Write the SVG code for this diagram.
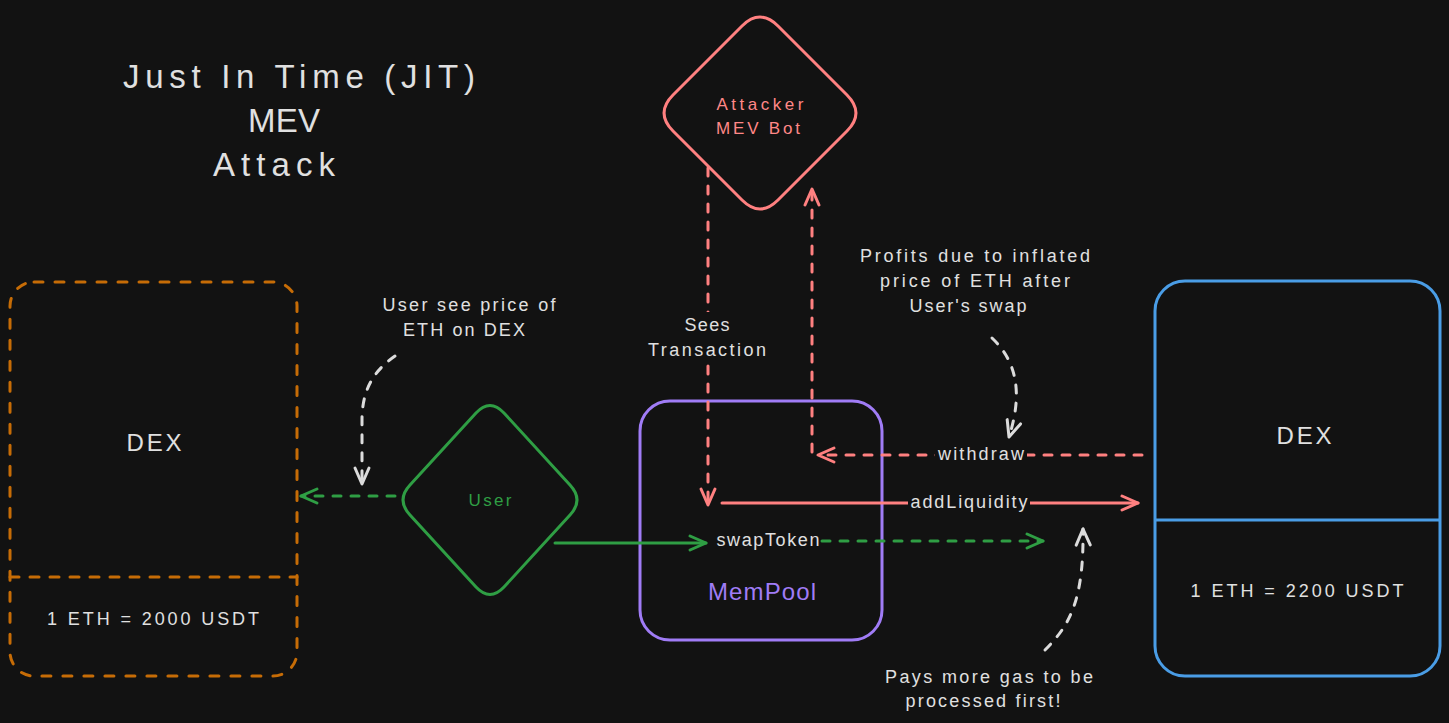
<svg xmlns="http://www.w3.org/2000/svg" width="1449" height="723" viewBox="0 0 1449 723">
<style>
text{font-family:"Liberation Sans","DejaVu Sans",sans-serif;text-anchor:middle;dominant-baseline:central}
.t{fill:#e0e0e0;font-size:18px}
.title{fill:#e0e0e0;font-size:33px}
.big{fill:#e0e0e0;font-size:24px}
.s{fill:none;stroke-width:3;stroke-linecap:round;stroke-linejoin:round}
.red{stroke:#ff8080}
.grn{stroke:#2f9e44}
.wht{stroke:#dcdcdc}
.dash{stroke-dasharray:8 10}
.bg{fill:#121212}
</style>
<defs>
<marker id="aR" viewBox="0 0 20 20" refX="18" refY="10" markerWidth="20" markerHeight="20" markerUnits="userSpaceOnUse" orient="auto"><path d="M2,3 L18,10 L2,17" fill="none" stroke="#ff8080" stroke-width="3" stroke-linecap="round" stroke-linejoin="round"/></marker>
<marker id="aG" viewBox="0 0 20 20" refX="18" refY="10" markerWidth="20" markerHeight="20" markerUnits="userSpaceOnUse" orient="auto"><path d="M2,3 L18,10 L2,17" fill="none" stroke="#2f9e44" stroke-width="3" stroke-linecap="round" stroke-linejoin="round"/></marker>
<marker id="aW" viewBox="0 0 20 20" refX="18" refY="10" markerWidth="20" markerHeight="20" markerUnits="userSpaceOnUse" orient="auto"><path d="M2,3 L18,10 L2,17" fill="none" stroke="#dcdcdc" stroke-width="3" stroke-linecap="round" stroke-linejoin="round"/></marker>
</defs>
<rect width="1449" height="723" fill="#121212"/>

<g id="title">
<text class="title" x="299" y="76" textLength="352" lengthAdjust="spacing">Just In Time (JIT)</text>
<text class="title" x="284" y="120" textLength="72" lengthAdjust="spacing">MEV</text>
<text class="title" x="274" y="164" textLength="122" lengthAdjust="spacing">Attack</text>
</g>

<g id="dex-left">
<rect x="10" y="282" width="287" height="394" rx="24" fill="none" stroke="#c66c06" stroke-width="3" stroke-dasharray="9 12" stroke-linecap="round"/>
<line x1="10" y1="577" x2="297" y2="577" stroke="#c66c06" stroke-width="3" stroke-dasharray="9 11" stroke-linecap="round"/>
<text class="big" x="154" y="442" textLength="55" lengthAdjust="spacing">DEX</text>
<text class="t" x="153" y="619" textLength="212" lengthAdjust="spacing">1 ETH = 2000 USDT</text>
</g>

<g id="attacker">
<path d="M742,26 Q760,8 778,26 L847,95 Q865,113 847,131 L778,200 Q760,218 742,200 L673,131 Q655,113 673,95 Z" fill="none" stroke="#ff8080" stroke-width="3"/>
<text x="760" y="104" style="fill:#ff8787;font-size:17px" textLength="87" lengthAdjust="spacing">Attacker</text>
<text x="758" y="128" style="fill:#ff8787;font-size:17px" textLength="84" lengthAdjust="spacing">MEV Bot</text>
</g>

<g id="user">
<path d="M476,413 Q490,398 504,413 L570,485 Q584,500 570,515 L504,587 Q490,602 476,587 L410,515 Q396,500 410,485 Z" fill="none" stroke="#2f9e44" stroke-width="3"/>
<text x="490" y="500" style="fill:#2f9e44;font-size:17px" textLength="43" lengthAdjust="spacing">User</text>
</g>

<g id="mempool">
<rect x="640" y="401" width="242" height="239" rx="30" fill="none" stroke="#a07cf6" stroke-width="3"/>
<text x="762" y="591" style="fill:#a07cf6;font-size:24px" textLength="108" lengthAdjust="spacing">MemPool</text>
</g>

<g id="dex-right">
<rect x="1155" y="281" width="285" height="395" rx="30" fill="none" stroke="#4a9de6" stroke-width="3"/>
<line x1="1155" y1="520" x2="1440" y2="520" stroke="#4a9de6" stroke-width="3"/>
<text class="big" x="1304" y="435" textLength="55" lengthAdjust="spacing">DEX</text>
<text class="t" x="1297" y="591" textLength="213" lengthAdjust="spacing">1 ETH = 2200 USDT</text>
</g>

<g id="connectors">
<path class="s grn dash" d="M395,496 L301,496" marker-end="url(#aG)"/>
<path class="s red dash" d="M708,168 L708,505" marker-end="url(#aR)"/>
<path class="s red dash" d="M812,452 L812,189" marker-end="url(#aR)"/>
<path class="s red dash" d="M1142,455 L818,455" marker-end="url(#aR)"/>
<path class="s red" d="M722,503 L1138,503" marker-end="url(#aR)"/>
<path class="s grn" d="M555,543 L706,543" marker-end="url(#aG)"/>
<path class="s grn dash" d="M822,541 L1043,541" marker-end="url(#aG)"/>
<path class="s wht dash" d="M395,356 C372,372 362,392 362,420 L362,484" marker-end="url(#aW)"/>
<path class="s wht dash" d="M992,338 C1015,360 1024,390 1009,437" marker-end="url(#aW)"/>
<path class="s wht dash" d="M1045,650 C1070,625 1084,600 1083,529" marker-end="url(#aW)"/>

<rect class="bg" x="646" y="312" width="122" height="50"/>
<text class="t" x="707" y="325" textLength="45" lengthAdjust="spacing">Sees</text>
<text class="t" x="707" y="350" textLength="118" lengthAdjust="spacing">Transaction</text>
<rect class="bg" x="935" y="443" width="92" height="24"/>
<text class="t" x="981" y="454" textLength="86" lengthAdjust="spacing">withdraw</text>
<rect class="bg" x="908" y="490" width="122" height="26"/>
<text class="t" x="969" y="502" textLength="117" lengthAdjust="spacing">addLiquidity</text>
<text class="t" x="768" y="540" textLength="103" lengthAdjust="spacing">swapToken</text>
</g>

<g id="notes">
<text class="t" x="469" y="305" textLength="173" lengthAdjust="spacing">User see price of</text>
<text class="t" x="464" y="330" textLength="122" lengthAdjust="spacing">ETH on DEX</text>
<text class="t" x="975" y="256" textLength="230" lengthAdjust="spacing">Profits due to inflated</text>
<text class="t" x="975" y="281" textLength="190" lengthAdjust="spacing">price of ETH after</text>
<text class="t" x="968" y="306" textLength="117" lengthAdjust="spacing">User's swap</text>
<text class="t" x="989" y="677" textLength="208" lengthAdjust="spacing">Pays more gas to be</text>
<text class="t" x="983" y="701" textLength="155" lengthAdjust="spacing">processed first!</text>
</g>
</svg>
